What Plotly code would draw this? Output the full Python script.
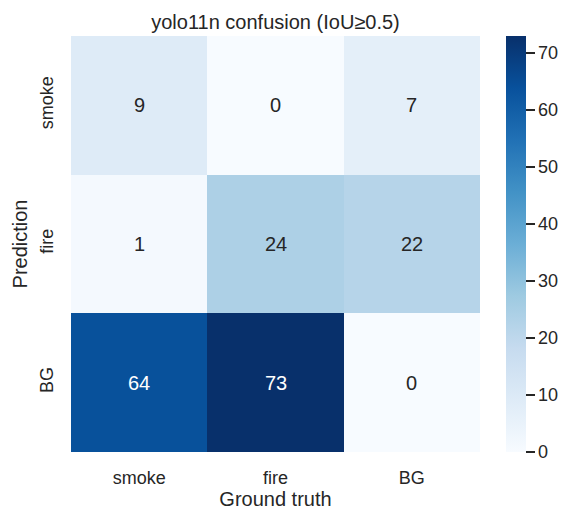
import plotly.graph_objects as go

# confusion counts, rows = prediction, cols = ground truth
classes = ["smoke", "fire", "BG"]
counts = [
    [9, 0, 7],
    [1, 24, 22],
    [64, 73, 0],
]
cbar_ticks = [0, 10, 20, 30, 40, 50, 60, 70]

blues = [
    [0.0, "rgb(247,251,255)"],
    [0.125, "rgb(222,235,247)"],
    [0.25, "rgb(198,219,239)"],
    [0.375, "rgb(158,202,225)"],
    [0.5, "rgb(107,174,214)"],
    [0.625, "rgb(66,146,198)"],
    [0.75, "rgb(33,113,181)"],
    [0.875, "rgb(8,81,156)"],
    [1.0, "rgb(8,48,107)"],
]

font = "Liberation Sans, Arial, sans-serif"
dark = "#262626"
vmax = max(max(r) for r in counts)

fig = go.Figure()
fig.add_trace(go.Heatmap(
    z=counts, x=classes, y=classes,
    colorscale=blues, zmin=0, zmax=vmax,
    colorbar=dict(
        x=1.0636, xanchor="left", xpad=0,
        y=0.5, yanchor="middle", ypad=0,
        len=1, thickness=20, outlinewidth=0,
        tickvals=cbar_ticks, ticks="outside", ticklen=9,
        tickwidth=1.5, tickcolor=dark, tickprefix="\u2009",
        tickfont=dict(family=font, size=18, color=dark),
    ),
    hoverinfo="skip",
))

# cell annotations, white on dark cells like seaborn
for i, row in enumerate(counts):
    for j, v in enumerate(row):
        fig.add_annotation(
            x=classes[j], y=classes[i], text=str(v), showarrow=False,
            font=dict(family=font, size=20,
                      color="white" if v / vmax > 0.6 else dark),
        )

# page body adds 8px, so the figure is 8px smaller and shifted
fig.update_layout(
    width=566, height=515,
    margin=dict(l=63, r=94, t=28, b=71),
    paper_bgcolor="white", plot_bgcolor="white",
    title=dict(text="yolo11n confusion (IoU≥0.5)", x=0.5, xref="paper",
               y=1, yref="paper", yanchor="bottom", pad=dict(b=7),
               font=dict(family=font, size=20, color=dark)),
    xaxis=dict(title=dict(text="Ground truth", standoff=2,
                          font=dict(family=font, size=20, color=dark)),
               tickfont=dict(family=font, size=18, color=dark),
               showgrid=False, zeroline=False, ticks="", ticklabelstandoff=13),
    yaxis=dict(title=dict(text="Prediction", standoff=4,
                          font=dict(family=font, size=20, color=dark)),
               tickfont=dict(family=font, size=18, color=dark),
               autorange="reversed", tickangle=-90,
               showgrid=False, zeroline=False, ticks="", ticklabelstandoff=13),
)

fig.write_html("out.html")
